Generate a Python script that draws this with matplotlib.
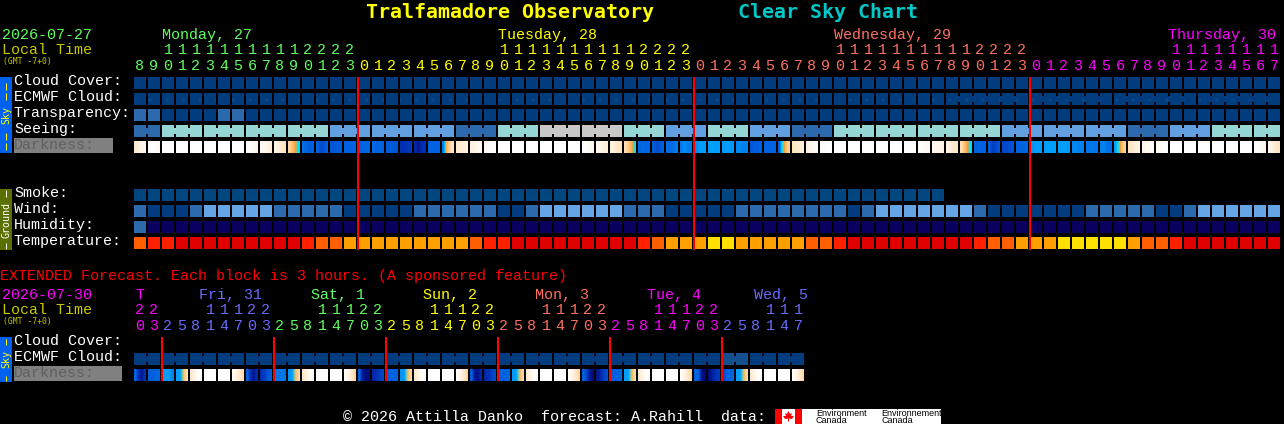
import matplotlib
matplotlib.use("Agg")
import matplotlib.pyplot as plt
from matplotlib.colors import LinearSegmentedColormap
from matplotlib.patches import Polygon, Rectangle

plt.rcParams["hatch.linewidth"] = 0.2

# palette of the block levels
DARK, MID, LIGHT = "#003c7e", "#2d6aad", "#65a5e5"
SPECKLE = "#0a4688"
SEEING_COLORS = {"D": MID, "L": "#629fe0", "T": "#95d6d4", "G": "#c8c8c8"}
WIND_COLORS = {0: DARK, 1: MID, 2: LIGHT}
HUMID_COLORS = {0: "#0a0060", 1: MID}
TEMP_COLORS = {0: "#e00000", 1: "#ff2000", 2: "#ff5f00", 3: "#ffa000", 4: "#ffe000"}

# main forecast, one block per hour
START_HOUR = 8
N_MAIN = 82
DAY_LABELS = ["Monday, 27", "Tuesday, 28", "Wednesday, 29", "Thursday, 30"]
DAY_LABEL_X = [162, 498, 834, 1168]
DAY_COLORS = ["#60ff60", "#ffff00", "#ff7060", "#ff00ff"]
DAY_FIRST_BLOCK = [0, 16, 40, 64]
MIDNIGHT_X = [358, 694, 1030]

CLOUD = [0] * 82
ECMWF = [0] * 82
ECMWF_SPANS = [1] * 58 + [6, 6, 6, 6]
TRANSPARENCY = [1, 1, 0, 0, 0, 0, 1, 1] + [0] * 74
SEEING = ["D", "T", "T", "T", "T", "L", "L", "L", "D", "T", "G", "G", "T", "L",
          "T", "L", "D", "T", "T", "T", "T", "L", "L", "L", "D", "L", "T", "T"]
SEEING_SPANS = [2] + [3] * 26 + [2]
SMOKE = [0] * 58
WIND = [1, 0, 0, 0, 1, 2, 2, 2, 2, 2, 1, 1, 1, 1, 1, 0, 0, 0, 0, 0,
        1, 1, 1, 1, 1, 1, 0, 0, 1, 2, 2, 2, 2, 2, 2, 1, 1, 1, 0, 0,
        0, 0, 0, 1, 1, 1, 1, 1, 1, 1, 1, 0, 1, 2, 2, 2, 2, 2, 2, 2,
        1, 0, 0, 0, 0, 0, 0, 0, 1, 1, 1, 1, 1, 0, 0, 1, 2, 2, 2, 2, 2, 2]
HUMIDITY = [1] + [0] * 81
TEMPERATURE = [2, 1, 1, 0, 0, 0, 0, 0, 0, 0, 0, 0, 1, 2, 2, 3, 3, 3, 3, 3,
               3, 3, 3, 3, 2, 1, 1, 0, 0, 0, 0, 0, 0, 0, 0, 0, 1, 2, 3, 3,
               3, 4, 4, 3, 3, 3, 3, 3, 2, 2, 1, 0, 0, 0, 0, 0, 0, 0, 0, 0,
               1, 2, 2, 3, 3, 3, 4, 4, 4, 4, 4, 3, 2, 2, 1, 0, 0, 0, 0, 0, 0, 0]

WH = [7, 7, 7, 7]
# sky brightness inside each block: 0 night, 2-3 moonlit, 4 dusk, 5-7 twilight to day
DARKNESS = [
    [6.2, 6.5, 6.7, 6.8], [6.9, 7, 6.9, 6.8], WH, WH, WH, WH, WH, WH,
    [7, 6.9, 6.8, 6.7], [6.8, 6.7, 6.6, 6.4], [6.6, 6.4, 6.2, 6.0],
    [5.8, 5.4, 5.0, 4.0], [2.2, 2.0, 1.9, 2.0], [2.0, 1.6, 1.6, 2.0],
    [1.8, 1.8, 1.9, 1.9], [2, 2, 2, 2], [2, 2, 2.1, 2.1], [2.1, 2, 2, 2],
    [1.9, 1.9, 1.8, 1.8], [1.0, 1.0, 1.1, 1.2], [0.8, 0.5, 0.9, 1.0], [2, 2, 2, 2],
    [2.5, 5.2, 5.7, 6.0], [6.2, 6.3, 6.4, 6.5], [6.4, 6.6, 6.7, 6.8], [6.8, 6.9, 6.9, 7],
    WH, WH, WH, WH, WH, WH,
    [7, 6.9, 6.8, 6.7], [6.8, 6.6, 6.5, 6.4], [6.5, 6.3, 6.1, 6.0], [5.9, 5.6, 5.2, 4.2],
    [2.1, 2.1, 2.1, 2.1], [1.9, 1.6, 1.7, 2.0], [2.2, 2.1, 2.2, 2.4], [2.4, 2.7, 2.5, 2.4],
    [2.6, 2.8, 3.0, 3.0], [3, 3, 3, 3], [3, 3, 2.9, 2.9], [2.6, 2.6, 2.5, 2.5],
    [1.8, 1.9, 1.9, 2.0], [2, 2, 2, 2], [2.0, 4.2, 5.3, 5.7], [6.0, 6.2, 6.3, 6.4],
    [6.5, 6.7, 6.8, 6.8], [6.9, 6.9, 7, 7], WH, WH,
    WH, WH, WH, WH,
    [6.9, 6.9, 6.8, 6.8], [6.8, 6.7, 6.6, 6.6], [6.6, 6.4, 6.2, 6.2], [5.9, 5.5, 5.0, 4.0],
    [2, 2, 2, 2], [1.9, 1.3, 1.4, 1.8], [1.5, 1.5, 1.6, 1.7], [2, 2, 2, 2.1],
    [2.8, 2.9, 3, 3], [3, 3, 3, 3], [3, 3, 3, 3], [2.6, 2.6, 2.5, 2.5],
    [2.3, 2.3, 2.3, 2.3], [2.5, 2.5, 2.2, 2.2], [3.0, 4.2, 5.3, 5.7], [6.0, 6.2, 6.4, 6.5],
    [6.6, 6.8, 6.8, 6.9], [6.8, 6.9, 7, 7], WH, WH, WH, WH, WH, WH,
    [7, 6.9, 6.8, 6.7], [6.7, 6.5, 6.2, 6.0],
]

# extended forecast, one block per 3 hours
EXT_START_HOUR = 20
N_EXT = 48
EXT_DAY_LABELS = ["T", "Fri, 31", "Sat, 1", "Sun, 2", "Mon, 3", "Tue, 4", "Wed, 5"]
EXT_DAY_LABEL_X = [135, 199, 311, 423, 535, 647, 754]
EXT_DAY_COLORS = ["#ff00ff", "#6a6aff", "#60ff60", "#ffff00", "#ff7060", "#ff00ff", "#6a6aff"]
EXT_DAY_FIRST_BLOCK = [0, 2, 10, 18, 26, 34, 42]
EXT_MIDNIGHT_X = [162, 274, 386, 498, 610, 722]

EXT_ECMWF = [0] * 42 + [1, 1] + [0] * 4
EXT_ECMWF_SPANS = [2] * 24
EXT_DARKNESS = [
    [2.1, 1.0, 0.5, 1.0], [1.9, 1.9, 2.0, 2.1], [3, 3, 2.9, 2.5], [3, 3, 5.3, 5.9],
    [6.2, 6.6, 6.9, 7], WH, WH, [6.8, 6.5, 6.2, 5.9],
    [2, 1.0, 0.5, 0.9], [1.0, 1.3, 1.7, 1.9], [2.3, 2.3, 2.3, 2.3], [2.8, 3, 5.3, 5.8],
    [6.2, 6.5, 6.8, 7], WH, WH, [6.9, 6.6, 6.2, 5.8],
    [2, 0.6, 0.3, 0.3], [0.8, 1.0, 1.2, 1.5], [2, 2, 2, 2], [2.8, 2.9, 5.2, 5.8],
    [6.2, 6.5, 6.9, 7], WH, WH, [6.9, 6.6, 6.2, 5.8],
    [2, 0.6, 0.3, 0.8], [0.8, 1.0, 1.3, 1.6], [2, 2, 2, 2.1], [2.9, 3, 5.2, 5.8],
    [6.3, 6.6, 6.9, 7], WH, WH, [6.9, 6.6, 6.2, 5.8],
    [2, 1.5, 0.6, 0.3], [0.5, 0.8, 1.2, 1.6], [1.9, 2, 2, 2.1], [3, 3, 5.2, 5.8],
    [6.3, 6.6, 6.9, 7], WH, WH, [6.9, 6.6, 6.2, 5.8],
    [2, 2, 0.5, 0.2], [0.3, 0.7, 1.0, 1.2], [1.5, 2, 2, 2.1], [3, 3, 5.2, 5.8],
    [6.3, 6.6, 6.9, 7], WH, WH, [6.9, 6.6, 6.2, 5.8],
]

X0, STEP, CELL = 134, 14, 12
MONO = "Liberation Mono"
PX = 72 / 100  # font size in points for one pixel at dpi 100

dark_cmap = LinearSegmentedColormap.from_list("darkness", [
    (0 / 7, "#00006e"), (1 / 7, "#0030b4"), (2 / 7, "#0062e0"), (3 / 7, "#00a0ff"),
    (4 / 7, "#00e0ff"), (5 / 7, "#ffa030"), (6 / 7, "#ffe4c0"), (7 / 7, "#ffffff")])


def label(ax, x, y, s, color="white", em=15, family=MONO, **kw):
    ax.text(x, y, s, color=color, fontsize=em * PX, family=family, va="baseline", **kw)


def blocks(ax, y, colors, hatch=None):
    x = [X0 + STEP * i for i in range(len(colors))]
    ax.bar(x, CELL, CELL, bottom=y, align="edge", color=colors, linewidth=0,
           antialiased=False, hatch=hatch, edgecolor=SPECKLE if hatch else None)


def links(ax, y, colors, spans):
    # the gaps inside a span are closed by a thinner piece
    i = 0
    for n in spans:
        for k in range(i, i + n - 1):
            ax.bar(X0 + STEP * k + CELL, 6, STEP - CELL, bottom=y + 3, align="edge",
                   color=colors[k], linewidth=0, antialiased=False)
        i += n


def darkness(ax, y, rows):
    for i, vals in enumerate(rows):
        x = X0 + STEP * i
        ax.imshow([vals], extent=(x, x + CELL, y + CELL, y), cmap=dark_cmap, vmin=0, vmax=7,
                  aspect="auto", interpolation="bilinear", interpolation_stage="data")


def hours(ax, start, step, n, firsts, colors, y_tens, y_units):
    for i in range(n):
        h = (start + step * i) % 24
        c = colors[sum(1 for f in firsts if f <= i) - 1]
        cx = X0 + STEP * i + CELL / 2
        label(ax, cx, y_units, str(h % 10), c, ha="center")
        if h >= 10:
            label(ax, cx, y_tens, str(h // 10), c, ha="center")


def side_bar(ax, y0, y1, color, text, text_y, text_color, dashes):
    ax.add_patch(Rectangle((0, y0), 12, y1 - y0, color=color, linewidth=0))
    ax.text(6, text_y, text, color=text_color, fontsize=10 * PX, family="DejaVu Sans Mono",
            rotation=90, ha="center", va="center")
    for a, b in dashes:
        ax.vlines(6, a, b, color=text_color, linewidth=1 * PX)


fig = plt.figure(figsize=(12.84, 4.24), dpi=100, facecolor="black")
ax = fig.add_axes([0, 0, 1, 1])
ax.set_facecolor("black")
ax.axis("off")

# title
label(ax, 366, 18, "Tralfamadore Observatory", "#ffff00", em=20, family="DejaVu Sans Mono", fontweight="bold")
label(ax, 738, 18, "Clear Sky Chart", "#00c8c8", em=20, family="DejaVu Sans Mono", fontweight="bold")

# main header
label(ax, 2, 39, "2026-07-27", "#60ff60")
label(ax, 2, 54, "Local Time", "#c8c800")
label(ax, 3, 64, "(GMT -7+0)", "#c8c800", em=8, family="DejaVu Sans Mono")
for s, x, c in zip(DAY_LABELS, DAY_LABEL_X, DAY_COLORS):
    label(ax, x, 39, s, c)
hours(ax, START_HOUR, 1, N_MAIN, DAY_FIRST_BLOCK, DAY_COLORS, 54, 70)

# sky rows
side_bar(ax, 77, 153, "#0060f0", "Sky", 115, "#ffff00", [(83, 90), (93, 100), (133, 140), (143, 150)])
for y, s in zip([85, 101, 117, 133], ["Cloud Cover:", "ECMWF Cloud:", "Transparency:", "Seeing:"]):
    label(ax, 14, y, s)
ax.add_patch(Rectangle((14, 138), 99, 15, color="#808080", linewidth=0))
label(ax, 14, 149, "Darkness:", "#606060")

blocks(ax, 77, [DARK for v in CLOUD])
ecmwf_colors = [DARK for v in ECMWF]
blocks(ax, 93, ecmwf_colors, hatch=".")
links(ax, 93, ecmwf_colors, ECMWF_SPANS)
blocks(ax, 109, [MID if v else DARK for v in TRANSPARENCY])

seeing_colors = []
for s, n in zip(SEEING, SEEING_SPANS):
    seeing_colors += [SEEING_COLORS[s]] * n
blocks(ax, 125, seeing_colors)
links(ax, 125, seeing_colors, SEEING_SPANS)
darkness(ax, 141, DARKNESS)

# ground rows
side_bar(ax, 189, 250, "#5a7000", "Ground", 219.5, "white", [(190, 197), (243, 249)])
for y, s in zip([197, 213, 229, 245], ["Smoke:", "Wind:", "Humidity:", "Temperature:"]):
    label(ax, 14, y, s)
blocks(ax, 189, ["#024680" for v in SMOKE], hatch=".")
blocks(ax, 205, [WIND_COLORS[v] for v in WIND])
blocks(ax, 221, [HUMID_COLORS[v] for v in HUMIDITY])
blocks(ax, 237, [TEMP_COLORS[v] for v in TEMPERATURE])

ax.vlines(MIDNIGHT_X, 77, 250, color="#ff0000", linewidth=2 * PX)

# extended forecast
label(ax, 0, 280, "EXTENDED Forecast. Each block is 3 hours. (A sponsored feature)", "#ff0000")
label(ax, 2, 299, "2026-07-30", "#ff00ff")
label(ax, 2, 314, "Local Time", "#c8c800")
label(ax, 3, 324, "(GMT -7+0)", "#c8c800", em=8, family="DejaVu Sans Mono")
for s, x, c in zip(EXT_DAY_LABELS, EXT_DAY_LABEL_X, EXT_DAY_COLORS):
    label(ax, x, 299, s, c)
hours(ax, EXT_START_HOUR, 3, N_EXT, EXT_DAY_FIRST_BLOCK, EXT_DAY_COLORS, 314, 330)

side_bar(ax, 337, 382, "#0060f0", "Sky", 359.5, "#ffff00", [(339, 345), (376, 381)])
label(ax, 14, 345, "Cloud Cover:")
label(ax, 14, 361, "ECMWF Cloud:")
ax.add_patch(Rectangle((14, 366), 108, 15, color="#808080", linewidth=0))
label(ax, 14, 377, "Darkness:", "#606060")

ext_colors = ["#13508f" if v else DARK for v in EXT_ECMWF]
blocks(ax, 353, ext_colors, hatch=".")
links(ax, 353, ext_colors, EXT_ECMWF_SPANS)
darkness(ax, 369, EXT_DARKNESS)
ax.vlines(EXT_MIDNIGHT_X, 337, 381, color="#ff0000", linewidth=2 * PX)

# footer
label(ax, 343, 421, "\u00a9 2026 Attilla Danko  forecast: A.Rahill  data:")
ax.add_patch(Rectangle((775, 409), 166, 15, color="white", linewidth=0))
ax.add_patch(Rectangle((775, 409), 7, 15, color="#ff0000", linewidth=0))
ax.add_patch(Rectangle((795, 409), 7, 15, color="#ff0000", linewidth=0))
ax.add_patch(Polygon([(788.5, 411), (790, 414), (792, 413), (791, 416), (794, 416),
                      (792, 419), (789, 418.5), (789, 421.5), (788, 421.5), (788, 418.5),
                      (785, 419), (783, 416), (786, 416), (785, 413), (787, 414)],
                     color="#ff0000", linewidth=0))
for x, s in zip([816, 881], ["Environment", "Environnement"]):
    label(ax, x, 416, s, "black", em=9, family="Liberation Sans")
    label(ax, x, 423, "Canada", "black", em=9, family="Liberation Sans")

ax.set_xlim(0, 1284)
ax.set_ylim(424, 0)
fig.savefig("out.png", dpi=100, facecolor="black")
